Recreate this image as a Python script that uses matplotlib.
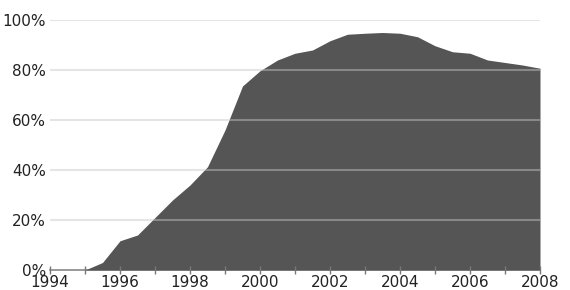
import matplotlib.pyplot as plt
from matplotlib.ticker import MultipleLocator, FuncFormatter

years = [1994, 1994.5, 1995, 1995.5, 1996, 1996.5, 1997, 1997.5, 1998, 1998.5,
         1999, 1999.5, 2000, 2000.5, 2001, 2001.5, 2002, 2002.5, 2003, 2003.5,
         2004, 2004.5, 2005, 2005.5, 2006, 2006.5, 2007, 2007.5, 2008]
share = [0, 0, 0, 3, 11.7, 14, 21, 28, 34, 41.3,
         56, 73.6, 79.7, 84, 86.7, 88, 91.7, 94.3, 94.7, 95,
         94.7, 93.3, 89.7, 87.3, 86.7, 84, 83, 82, 80.7]

fig = plt.figure(figsize=(5.7, 2.9), dpi=100)
ax = fig.add_axes([50 / 570, 20 / 290, 490 / 570, 250 / 290])

ax.fill_between(years, share, 0, color='#555555', linewidth=0, zorder=1)

# grid sits over the fill, semi-transparent
for v in [20, 40, 60, 80, 100]:
    ax.axhline(v, color='#c7c7c7', alpha=0.45, linewidth=1.5, zorder=2)

ax.set_xlim(1994, 2008)
ax.set_ylim(0, 100)

for s in ['top', 'right', 'left']:
    ax.spines[s].set_visible(False)
ax.spines['bottom'].set_color('#888888')
ax.spines['bottom'].set_linewidth(1.2)
ax.spines['bottom'].set_zorder(0)

ax.xaxis.set_major_locator(MultipleLocator(2))
ax.xaxis.set_minor_locator(MultipleLocator(1))
ax.yaxis.set_major_locator(MultipleLocator(20))
ax.yaxis.set_major_formatter(FuncFormatter(lambda v, p: '%d%%' % v))

ax.tick_params(axis='x', which='both', direction='inout', length=6, width=1,
               color='#777777', labelsize=11, pad=0.5, labelcolor='#222222')
ax.tick_params(axis='y', length=0, labelsize=11, pad=3, labelcolor='#222222')

fig.savefig('out.png', dpi=100)
